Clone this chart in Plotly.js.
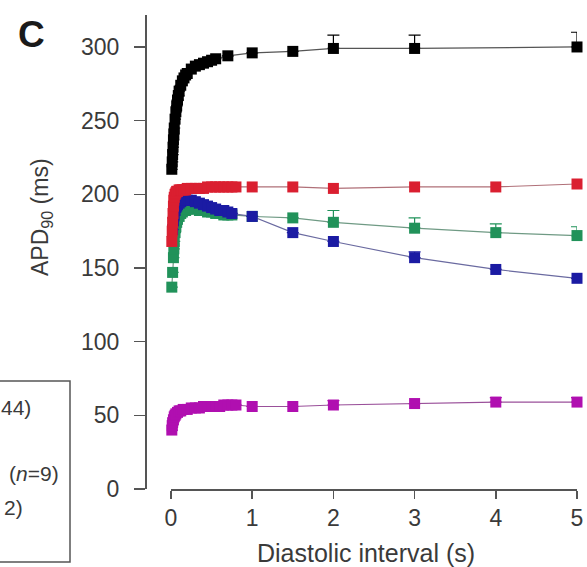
<!DOCTYPE html>
<html>
<head>
<meta charset="utf-8">
<script src="https://cdn.plot.ly/plotly-3.0.1.min.js"></script>
<style>html,body{margin:0;padding:0;background:#fff;}#chart{width:587px;height:567px;}</style>
</head>
<body>
<div id="chart"></div>
<script>
// ---- data (diastolic interval in s, APD90 in ms, upper error in ms) ----
const diBlack  = [0.01,0.015,0.02,0.025,0.03,0.035,0.04,0.05,0.06,0.07,0.08,0.09,0.10,0.12,0.14,0.16,0.18,0.20,0.25,0.30,0.35,0.40,0.45,0.50,0.55,0.70,1,1.5,2,3,5];
const apdBlack = [217,222,227,232,237,241,245,251,256,260,264,267,270,274,277,279,281,282,285,287,288,289,290,291,292,294,296,297,299,299,300];
const errBlack = [0,0,0,0,0,0,0,0,0,0,0,0,0,0,0,0,0,0,0,0,0,0,0,0,0,0,0,0,9,9,10];

const diGreen  = [0.01,0.02,0.03,0.035,0.04,0.05,0.06,0.07,0.08,0.10,0.12,0.14,0.16,0.18,0.20,0.25,0.30,0.35,0.40,0.45,0.50,0.55,0.60,0.65,0.70,0.75,1,1.5,2,3,4,5];
const apdGreen = [137,147,157,163,168,174,178,181,183,185,187,188,189,189,190,190,190,189,189,188,188,187,187,186,186,186,185,184,181,177,174,172];
const errGreen = [0,0,0,0,0,0,0,0,0,0,0,0,0,0,0,0,0,0,0,0,0,0,0,0,0,0,0,0,8,7,6,6];

const diBlue   = [0.02,0.03,0.04,0.05,0.06,0.07,0.08,0.10,0.12,0.14,0.16,0.18,0.20,0.25,0.30,0.35,0.40,0.45,0.50,0.55,0.60,0.65,0.70,0.75,1,1.5,2,3,4,5];
const apdBlue  = [176,182,186,189,191,192,193,194,195,196,196,196,196,196,195,194,193,192,191,190,189,189,188,187,185,174,168,157,149,143];
const errBlue  = [0,0,0,0,0,0,0,0,0,0,0,0,0,0,0,0,0,0,0,0,0,0,0,0,0,0,0,4,0,0];

const diRed    = [0.01,0.015,0.02,0.025,0.03,0.035,0.04,0.05,0.06,0.07,0.08,0.10,0.12,0.14,0.16,0.18,0.20,0.25,0.30,0.35,0.40,0.45,0.50,0.55,0.60,0.65,0.70,0.75,0.80,1,1.5,2,3,4,5];
const apdRed   = [168,175,181,187,192,196,198,200,201,202,202,203,203,203,203,203,204,204,204,204,204,205,205,205,205,205,205,205,205,205,205,204,205,205,207];

const diMag    = [0.01,0.015,0.02,0.03,0.04,0.05,0.06,0.08,0.10,0.12,0.15,0.20,0.25,0.30,0.35,0.40,0.45,0.50,0.55,0.60,0.65,0.70,0.75,0.80,1,1.5,2,3,4,5];
const apdMag   = [40,43,45,47,49,50,51,52,53,53,54,54,55,55,55,56,56,56,56,56,57,57,57,57,56,56,57,58,59,59];
const errMag   = [0,0,0,0,0,0,0,0,0,0,0,0,0,0,0,0,0,0,0,0,0,0,0,0,0,0,3,0,3,3];

const xTicks = [0,1,2,3,4,5];
const yTicks = [0,50,100,150,200,250,300];
const legendVisibleText = ["44)", "(<i>n</i>=9)", "2)"];

// ---- styling ----
const W = 587, H = 567;
const axisColor = '#555';
const textColor = '#3a3a3a';
const font = 'Liberation Sans, Arial, sans-serif';

function series(x, y, err, color, lineColor) {
  const t = {
    x: x, y: y, type: 'scatter', mode: 'lines+markers',
    marker: {symbol: 'square', size: 11, color: color},
    line: {color: lineColor, width: 1.2},
    cliponaxis: false, showlegend: false
  };
  if (err) {
    t.error_y = {type: 'data', symmetric: false, array: err, arrayminus: err.map(() => 0),
                 color: color, thickness: 1.2, width: 6};
  }
  return t;
}

const data = [
  series(diGreen, apdGreen, errGreen, '#21925a', '#6f9a84'),
  series(diBlue, apdBlue, errBlue, '#1b1ba3', '#6a6aa0'),
  series(diRed, apdRed, null, '#da1f30', '#b07078'),
  series(diBlack, apdBlack, errBlack, '#000000', '#555555'),
  series(diMag, apdMag, errMag, '#b00fb0', '#9a509a')
];

const layout = {
  width: W, height: H,
  margin: {l: 0, r: 0, t: 0, b: 0},
  paper_bgcolor: '#fff', plot_bgcolor: '#fff',
  font: {family: font, color: textColor, size: 23},
  xaxis: {
    domain: [171 / W, 577 / W], range: [0, 5], anchor: 'y',
    tickvals: xTicks, ticktext: xTicks.map(String),
    ticks: 'outside', ticklen: 8, tickwidth: 1.5, tickcolor: axisColor,
    showline: true, linecolor: axisColor, linewidth: 1.5,
    showgrid: false, zeroline: false,
    tickfont: {size: 23, color: textColor, family: font}
  },
  yaxis: {
    domain: [(H - 489) / H, (H - 15) / H], range: [0, 321.7],
    anchor: 'free', position: 145 / W,
    tickvals: yTicks, ticktext: yTicks.map(String),
    ticks: 'outside', ticklen: 11, tickwidth: 1.5, tickcolor: axisColor,
    ticklabelstandoff: 10,
    showline: true, linecolor: axisColor, linewidth: 1.5,
    showgrid: false, zeroline: false,
    tickfont: {size: 23, color: textColor, family: font}
  },
  shapes: [
    {type: 'rect', xref: 'paper', yref: 'paper',
     x0: -10 / W, x1: 70 / W, y0: (H - 562) / H, y1: (H - 381) / H,
     line: {color: axisColor, width: 1.5}, fillcolor: 'rgba(0,0,0,0)'}
  ],
  annotations: [
    {text: 'C', xref: 'paper', yref: 'paper', x: 31 / W, y: (H - 34) / H,
     xanchor: 'center', yanchor: 'middle', showarrow: false,
     font: {size: 37, family: font, color: '#1a1a1a', weight: 'bold'}},
    {text: 'Diastolic interval (s)', xref: 'paper', yref: 'paper', x: 366 / W, y: (H - 553) / H,
     xanchor: 'center', yanchor: 'middle', showarrow: false,
     font: {size: 25, family: font, color: textColor}},
    {text: 'APD<sub>90</sub> (ms)', xref: 'paper', yref: 'paper', x: 41 / W, y: (H - 217) / H,
     xanchor: 'center', yanchor: 'middle', showarrow: false, textangle: -90,
     font: {size: 23, family: font, color: textColor}},
    {text: legendVisibleText[0], xref: 'paper', yref: 'paper', x: 33 / W, y: (H - 407) / H,
     xanchor: 'right', yanchor: 'middle', showarrow: false, font: {size: 21, family: font, color: textColor}},
    {text: legendVisibleText[1], xref: 'paper', yref: 'paper', x: 61 / W, y: (H - 473) / H,
     xanchor: 'right', yanchor: 'middle', showarrow: false, font: {size: 21, family: font, color: textColor}},
    {text: legendVisibleText[2], xref: 'paper', yref: 'paper', x: 25 / W, y: (H - 507) / H,
     xanchor: 'right', yanchor: 'middle', showarrow: false, font: {size: 21, family: font, color: textColor}}
  ]
};

Plotly.newPlot('chart', data, layout, {staticPlot: true, displayModeBar: false});
</script>
</body>
</html>
